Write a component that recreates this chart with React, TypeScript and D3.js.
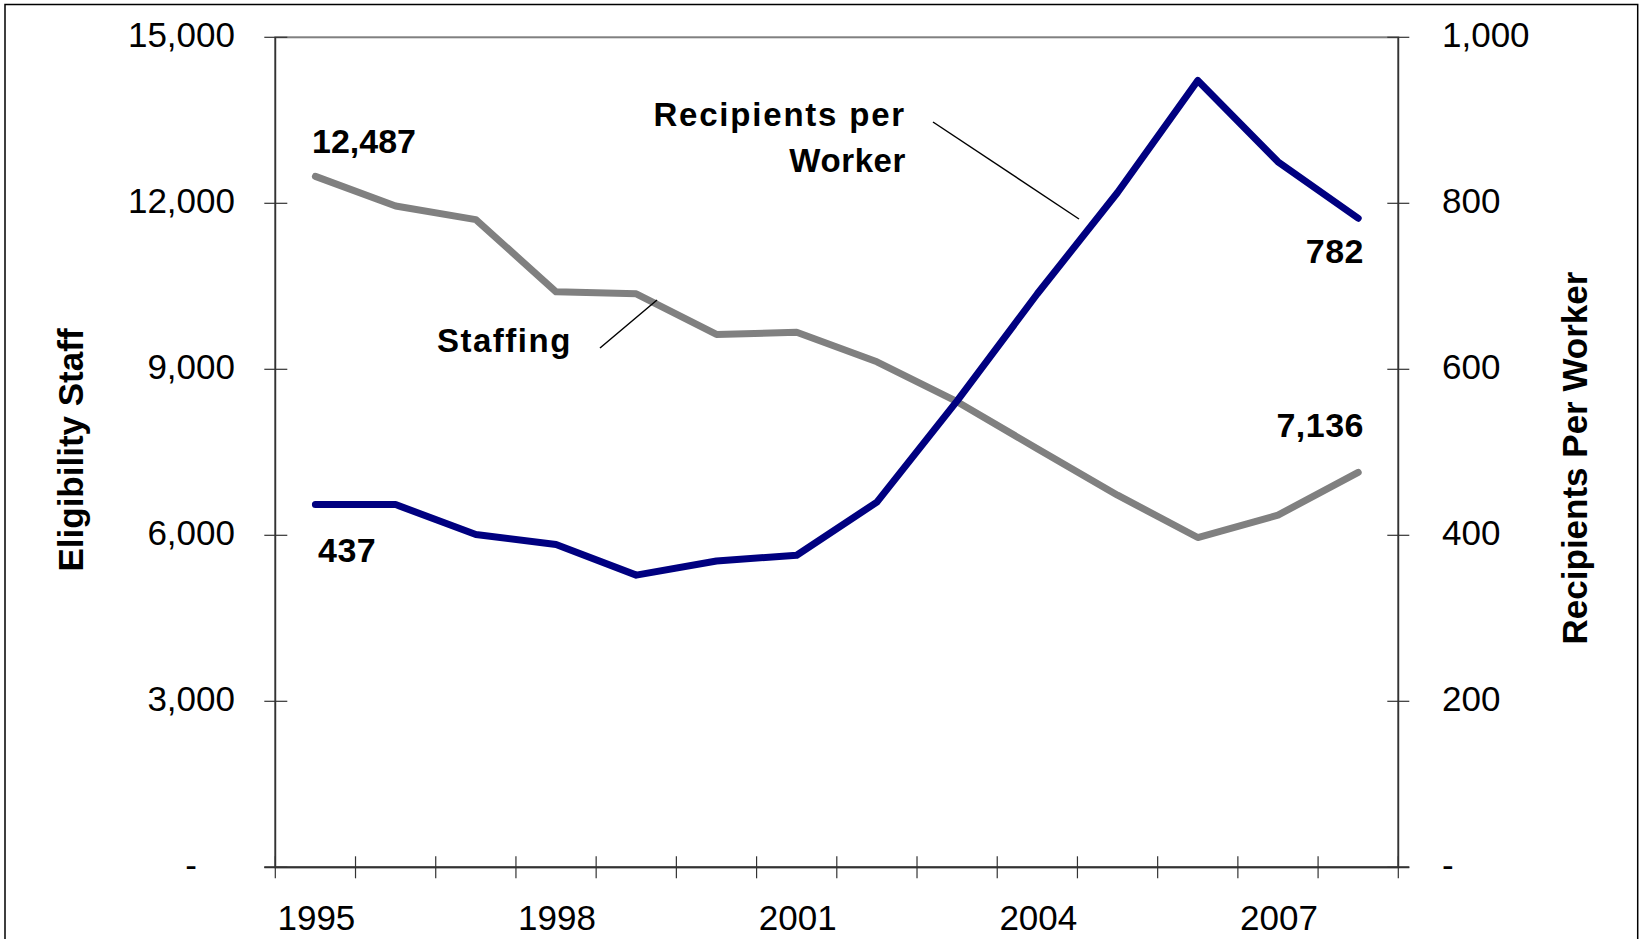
import React from "react";
import * as d3 from "d3";

const years: number[] = [1995, 1996, 1997, 1998, 1999, 2000, 2001, 2002, 2003, 2004, 2005, 2006, 2007, 2008];
const staffing: number[] = [12487, 11950, 11705, 10400, 10365, 9630, 9670, 9135, 8415, 7565, 6725, 5960, 6365, 7136];
const recipientsPerWorker: number[] = [437, 437, 401, 389, 352, 369, 376, 440, 562, 691, 813, 948, 850, 782];
const leftTicks: number[] = [0, 3000, 6000, 9000, 12000, 15000];
const rightTicks: number[] = [0, 200, 400, 600, 800, 1000];
const yearLabels: number[] = [1995, 1998, 2001, 2004, 2007];

const FONT = "'Liberation Sans', Arial, Helvetica, sans-serif";

export default function App() {
  const W = 1646;
  const H = 939;
  const left = 275.3;
  const right = 1398.3;
  const top = 37.3;
  const bottom = 867.3;

  const x = d3.scaleBand<number>().domain(years).range([left, right]).padding(0);
  const cx = (yr: number) => (x(yr) as number) + x.bandwidth() / 2;
  const yL = d3.scaleLinear().domain([0, 15000]).range([bottom, top]);
  const yR = d3.scaleLinear().domain([0, 1000]).range([bottom, top]);

  const staffLine = d3
    .line<number>()
    .x((_, i) => cx(years[i]))
    .y((d) => yL(d))(staffing) as string;
  const recLine = d3
    .line<number>()
    .x((_, i) => cx(years[i]))
    .y((d) => yR(d))(recipientsPerWorker) as string;

  const fmt = d3.format(",");
  const boundaries = years.map((yr) => x(yr) as number).concat([right]);

  const last = years.length - 1;

  return (
    <svg
      width={W}
      height={H}
      style={{ position: "absolute", left: 0, top: 0, background: "#fff" }}
      fontFamily={FONT}
    >
      <rect x={0} y={0} width={W} height={H} fill="#fff" />
      {/* outer chart border */}
      <rect x={5} y={4.5} width={1632.7} height={H + 20} fill="none" stroke="#000" strokeWidth={1.5} />

      {/* plot area border */}
      <rect x={left} y={top} width={right - left} height={bottom - top} fill="none" stroke="#808080" strokeWidth={2} />

      {/* axes */}
      <line x1={left} y1={top} x2={left} y2={bottom} stroke="#333" strokeWidth={1.5} />
      <line x1={right} y1={top} x2={right} y2={bottom} stroke="#333" strokeWidth={1.5} />
      <line x1={left - 11} y1={bottom} x2={right + 11} y2={bottom} stroke="#333" strokeWidth={2} />

      {/* left ticks and labels */}
      {leftTicks.map((t) => (
        <g key={"l" + t}>
          <line x1={left - 11} x2={left + 12} y1={yL(t)} y2={yL(t)} stroke="#333" strokeWidth={1.2} />
          <text
            x={t === 0 ? 197 : 235}
            y={yL(t) + 10}
            textAnchor="end"
            fontSize={35}
            fill="#000"
          >
            {t === 0 ? "-" : fmt(t)}
          </text>
        </g>
      ))}

      {/* right ticks and labels */}
      {rightTicks.map((t) => (
        <g key={"r" + t}>
          <line x1={right - 11} x2={right + 11} y1={yR(t)} y2={yR(t)} stroke="#333" strokeWidth={1.2} />
          <text x={1442} y={yR(t) + 10} textAnchor="start" fontSize={35} fill="#000">
            {t === 0 ? "-" : fmt(t)}
          </text>
        </g>
      ))}

      {/* x ticks */}
      {boundaries.map((bx, i) => (
        <line key={"xt" + i} x1={bx} x2={bx} y1={bottom - 11} y2={bottom + 11} stroke="#333" strokeWidth={1.2} />
      ))}
      {yearLabels.map((yr) => (
        <text key={"xl" + yr} x={cx(yr) + 1} y={930} textAnchor="middle" fontSize={35} fill="#000">
          {yr}
        </text>
      ))}

      {/* axis titles */}
      <text
        transform={`translate(83, 450) rotate(-90)`}
        textAnchor="middle"
        fontSize={35}
        fontWeight="bold"
        fill="#000"
      >
        Eligibility Staff
      </text>
      <text
        transform={`translate(1587, 458) rotate(-90)`}
        textAnchor="middle"
        fontSize={35}
        fontWeight="bold"
        fill="#000"
      >
        Recipients Per Worker
      </text>

      {/* series */}
      <path d={staffLine} fill="none" stroke="#808080" strokeWidth={7} strokeLinejoin="round" strokeLinecap="round" />
      <path d={recLine} fill="none" stroke="#000080" strokeWidth={7} strokeLinejoin="round" strokeLinecap="round" />

      {/* data labels */}
      <text x={312} y={153} fontSize={34} fontWeight="bold" fill="#000">
        {fmt(staffing[0])}
      </text>
      <text x={318} y={562} fontSize={34} fontWeight="bold" fill="#000" letterSpacing={0.5}>
        {fmt(recipientsPerWorker[0])}
      </text>
      <text x={1364} y={263} textAnchor="end" fontSize={34} fontWeight="bold" fill="#000" letterSpacing={0.5}>
        {fmt(recipientsPerWorker[last])}
      </text>
      <text x={1364} y={437} textAnchor="end" fontSize={34} fontWeight="bold" fill="#000" letterSpacing={0.5}>
        {fmt(staffing[last])}
      </text>

      {/* annotations */}
      <text x={437} y={352} fontSize={33} fontWeight="bold" fill="#000" letterSpacing={1.5}>
        Staffing
      </text>
      <line x1={600} y1={348} x2={657} y2={300} stroke="#000" strokeWidth={1.5} />

      <text x={906} y={126} textAnchor="end" fontSize={33} fontWeight="bold" fill="#000" letterSpacing={1.8}>
        Recipients per
      </text>
      <text x={906} y={172} textAnchor="end" fontSize={33} fontWeight="bold" fill="#000" letterSpacing={0.6}>
        Worker
      </text>
      <line x1={933} y1={122} x2={1079} y2={219} stroke="#000" strokeWidth={1.5} />
    </svg>
  );
}
